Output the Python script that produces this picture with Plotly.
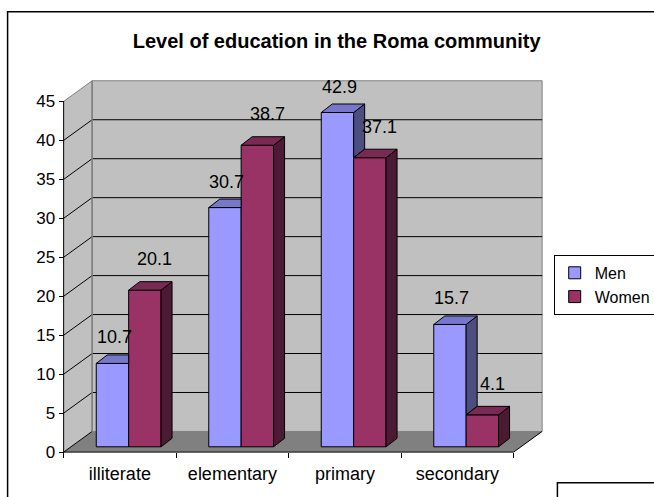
import plotly.graph_objects as go

# ---------------- data ----------------
categories = ["illiterate", "elementary", "primary", "secondary"]
men = [10.7, 30.7, 42.9, 15.7]
women = [20.1, 38.7, 37.1, 4.1]
series_names = ["Men", "Women"]
y_ticks = [0, 5, 10, 15, 20, 25, 30, 35, 40, 45]
title_text = "Level of education in the Roma community"

# ---------------- style / geometry ----------------
FONT = "Arial, Liberation Sans, sans-serif"
MEN_C, MEN_TOP, MEN_SIDE = "#9999FF", "#7777CC", "#4D4D80"
WOM_C, WOM_TOP, WOM_SIDE = "#993366", "#7A2952", "#4D1A33"
WALL, FLOOR, EDGE = "#C0C0C0", "#808080", "#808080"

X0, X1 = -0.55, 3.77          # x axis range (category units)
Y0, Y1 = -0.5, 47.75          # y axis range (value units)
XL, XR = -0.5, 3.5            # front plane extent
DX, DY = 0.2534, 2.65         # wall depth offset (axis units)
BDX, BDY = 0.0978, 1.09       # bar depth offset (axis units)
BASE = 0.68                   # bar base (set into floor)
W = 0.288                     # bar width
OFF_M, OFF_W = -0.21, 0.078   # bar offsets

L_M, W_P = 58.4, 485.9        # px
T_M, H_P = 80.3, 375.6
FIG_W, FIG_H = 654, 497

def px(xpix):
    return (xpix - L_M) / W_P

def py(ypix):
    return (T_M + H_P - ypix) / H_P

xs = list(range(len(categories)))
ymax = y_ticks[-1]

fig = go.Figure()

# front faces (bars)
fig.add_trace(go.Bar(x=xs, y=men, base=BASE, width=W, offset=OFF_M, name=series_names[0],
                     legendgroup="m", marker=dict(color=MEN_C, line=dict(color="black", width=1)),
                     hoverinfo="skip"))
fig.add_trace(go.Bar(x=xs, y=women, base=BASE, width=W, offset=OFF_W, name=series_names[1],
                     legendgroup="w", marker=dict(color=WOM_C, line=dict(color="black", width=1)),
                     hoverinfo="skip"))

# 3D top and side faces computed from data
men_top_x, men_top_y, men_side_x, men_side_y = [], [], [], []
w_top_x, w_top_y, w_side_x, w_side_y = [], [], [], []
for i, (vm, vw) in enumerate(zip(men, women)):
    xl = i + OFF_M
    xr = xl + W
    tm = BASE + vm
    tw = BASE + vw
    if tw > tm + BDY:
        px_ = [xl, xr, xr, xl + BDX, xl]
        py_ = [tm, tm, tm + BDY, tm + BDY, tm]
    else:
        px_ = [xl, xr, xr + BDX, xl + BDX, xl]
        py_ = [tm, tm, tm + BDY, tm + BDY, tm]
    men_top_x += px_ + [None]
    men_top_y += py_ + [None]
    if vm > vw:
        men_side_x += [xr, xr, xr + BDX, xr + BDX, xr, None]
        men_side_y += [tw, tm, tm + BDY, tw + BDY, tw, None]
    wl = i + OFF_W
    wr = wl + W
    w_top_x += [wl, wr, wr + BDX, wl + BDX, wl, None]
    w_top_y += [tw, tw, tw + BDY, tw + BDY, tw, None]
    w_side_x += [wr, wr, wr + BDX, wr + BDX, wr, None]
    w_side_y += [BASE, tw, tw + BDY, BASE + BDY, BASE, None]

for fx, fy, col in [(men_side_x, men_side_y, MEN_SIDE), (men_top_x, men_top_y, MEN_TOP),
                    (w_side_x, w_side_y, WOM_SIDE), (w_top_x, w_top_y, WOM_TOP)]:
    if fx:
        fig.add_trace(go.Scatter(x=fx, y=fy, mode="lines", fill="toself", fillcolor=col,
                                 line=dict(color="black", width=1), showlegend=False,
                                 hoverinfo="skip"))

# data labels
for vals, off, xs_, ys_ in [(men, OFF_M, 2, 26), (women, OFF_W, 10, 31)]:
    for i, v in enumerate(vals):
        fig.add_annotation(x=i + off + W / 2, y=BASE + v, xref="x", yref="y", text=f"{v}",
                           showarrow=False, xshift=xs_, yshift=ys_,
                           font=dict(family=FONT, size=18, color="black"))

# ---------------- walls, floor, gridlines (shapes) ----------------
shapes = []
# side wall
shapes.append(dict(type="path", xref="x", yref="y", layer="below",
                   path=f"M{XL},0 L{XL},{ymax} L{XL+DX},{ymax+DY} L{XL+DX},{DY} Z",
                   fillcolor=WALL, line=dict(width=0)))
# back wall
shapes.append(dict(type="rect", xref="x", yref="y", layer="below",
                   x0=XL + DX, x1=XR + DX, y0=DY, y1=ymax + DY,
                   fillcolor=WALL, line=dict(color=EDGE, width=1)))
# floor
shapes.append(dict(type="path", xref="x", yref="y", layer="below",
                   path=f"M{XL},0 L{XR},0 L{XR+DX},{DY} L{XL+DX},{DY} Z",
                   fillcolor=FLOOR, line=dict(width=0)))
# gridlines
for v in y_ticks:
    if v == ymax:
        shapes.append(dict(type="path", xref="x", yref="y", layer="below",
                           path=f"M{XL},{v} L{XL+DX},{v+DY}", line=dict(color=EDGE, width=1)))
    elif v == 0:
        shapes.append(dict(type="path", xref="x", yref="y", layer="below",
                           path=f"M{XL},{v} L{XL+DX},{v+DY}", line=dict(color="black", width=1)))
    else:
        shapes.append(dict(type="path", xref="x", yref="y", layer="below",
                           path=f"M{XL},{v} L{XL+DX},{v+DY} L{XR+DX},{v+DY}",
                           line=dict(color="black", width=1)))
# back wall vertical edges
shapes.append(dict(type="line", xref="x", yref="y", layer="below", x0=XL + DX, x1=XL + DX,
                   y0=DY, y1=ymax + DY, line=dict(color=EDGE, width=1.5)))
# floor right edge
shapes.append(dict(type="line", xref="x", yref="y", layer="below", x0=XR, x1=XR + DX,
                   y0=0, y1=DY, line=dict(color="black", width=1)))
# axis lines
shapes.append(dict(type="line", xref="x", yref="y", layer="below", x0=XL, x1=XL,
                   y0=0, y1=ymax, line=dict(color="black", width=1)))
shapes.append(dict(type="line", xref="x", yref="y", layer="below", x0=XL, x1=XR,
                   y0=0, y1=0, line=dict(color="black", width=1)))
# outer chart border and extra box (paper)
shapes.append(dict(type="rect", xref="paper", yref="paper", x0=px(8), y0=py(12),
                   x1=px(700), y1=py(530), line=dict(color="black", width=1.5),
                   fillcolor="rgba(0,0,0,0)", layer="above"))
shapes.append(dict(type="rect", xref="paper", yref="paper", x0=px(557.7), y0=py(482.7),
                   x1=px(700), y1=py(560), line=dict(color="black", width=1.5),
                   fillcolor="rgba(0,0,0,0)", layer="above"))

fig.update_layout(
    width=FIG_W, height=FIG_H,
    margin=dict(l=L_M, r=FIG_W - L_M - W_P, t=T_M, b=FIG_H - T_M - H_P, autoexpand=False),
    paper_bgcolor="white", plot_bgcolor="rgba(0,0,0,0)",
    barmode="overlay",
    shapes=shapes,
    title=dict(text=f"<b>{title_text}</b>", x=px(337), xref="paper", xanchor="center",
               y=1 - 41 / FIG_H, yref="container", yanchor="middle",
               font=dict(family=FONT, size=20, color="black")),
    font=dict(family=FONT, color="black"),
    legend=dict(x=px(554), y=py(255), xanchor="left", yanchor="top", xref="paper", yref="paper",
                bgcolor="white", bordercolor="black", borderwidth=1,
                font=dict(family=FONT, size=16, color="black"), tracegroupgap=8,
                traceorder="normal"),
    xaxis=dict(range=[X0, X1], tickmode="array", tickvals=xs, ticktext=categories,
               ticks="", showgrid=False, zeroline=False, showline=False,
               anchor="free", position=(0 - Y0) / (Y1 - Y0), ticklabelstandoff=9,
               tickfont=dict(family=FONT, size=18, color="black"),
               minor=dict(tickmode="array", tickvals=[i - 0.5 for i in range(len(categories) + 1)],
                          ticks="outside", ticklen=5, tickcolor="black", tickwidth=1, showgrid=False)),
    yaxis=dict(range=[Y0, Y1], tickmode="array", tickvals=y_ticks,
               ticks="outside", ticklen=5, tickcolor="black", tickwidth=1,
               showgrid=False, zeroline=False, showline=False,
               anchor="free", position=(XL - X0) / (X1 - X0),
               tickfont=dict(family=FONT, size=17, color="black")),
)

fig.write_html("out.html")
